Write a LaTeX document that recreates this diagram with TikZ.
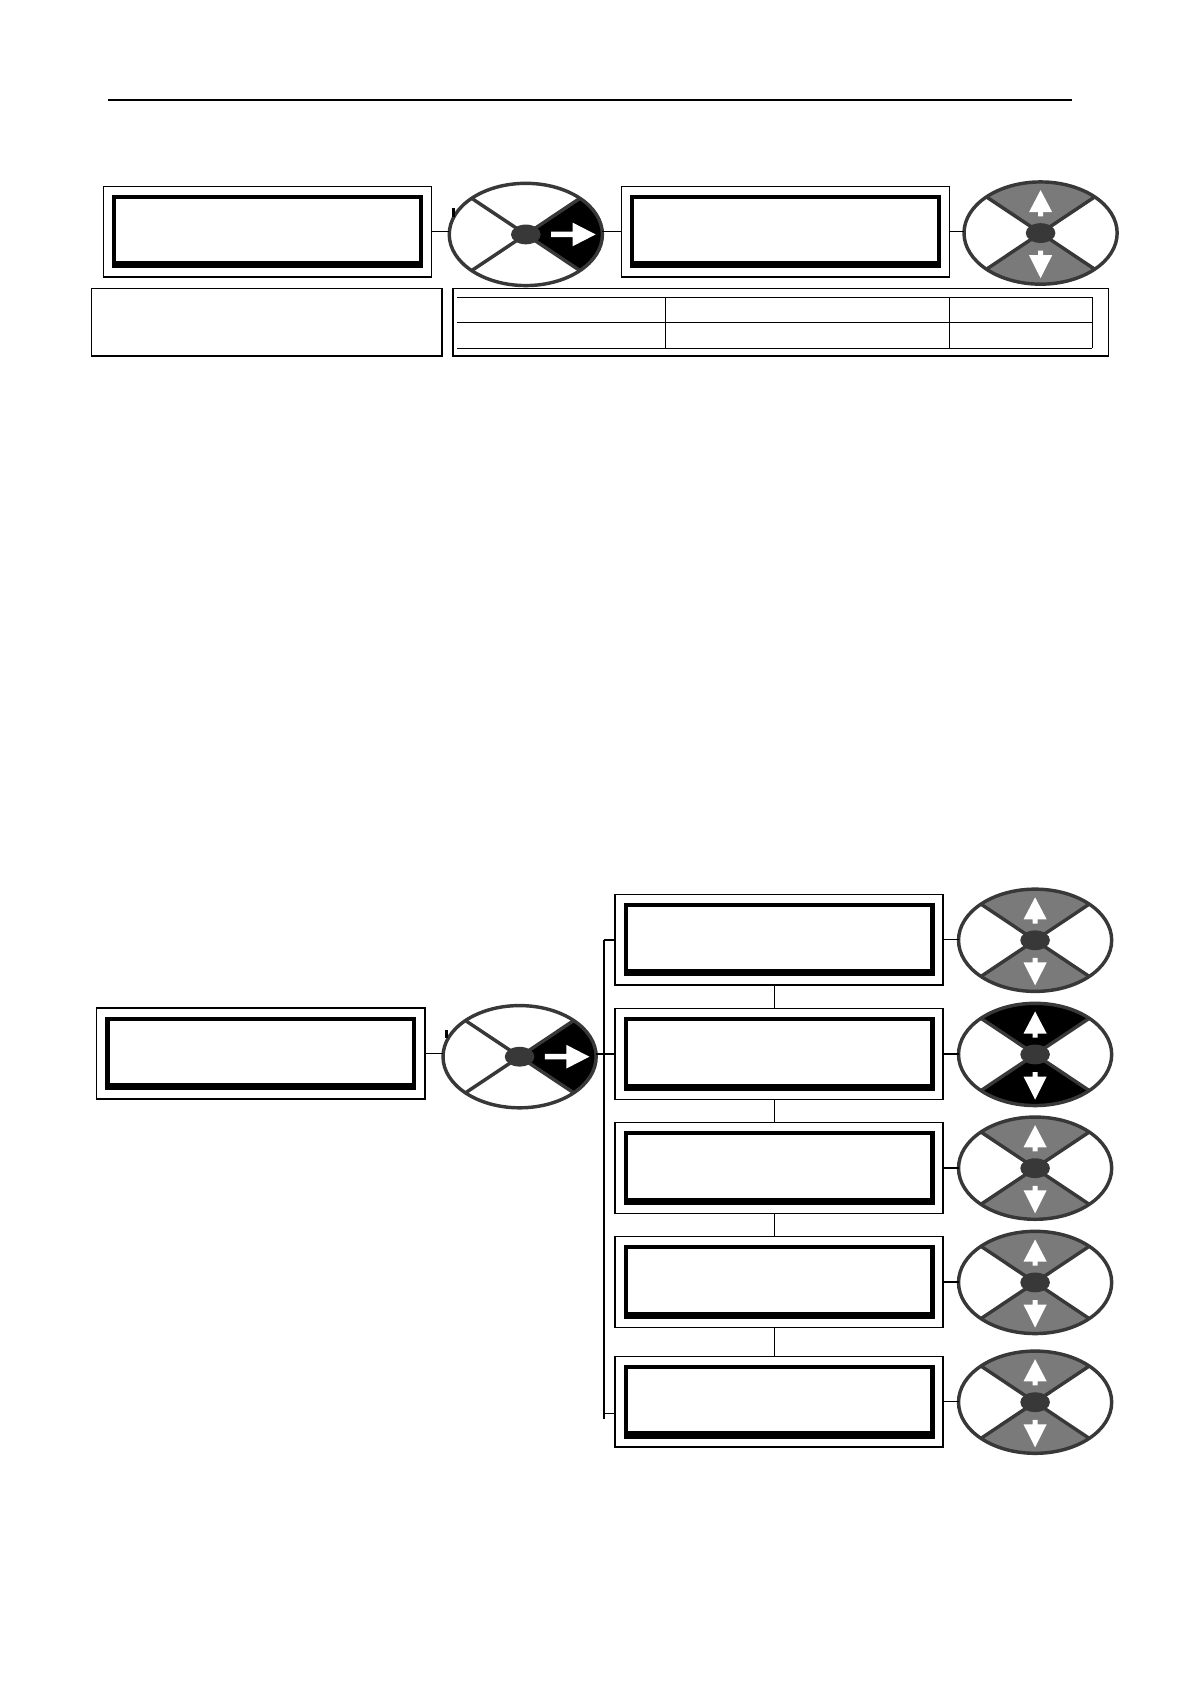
\documentclass[tikz,border=0pt]{standalone}
\usetikzlibrary{shapes.geometric,calc}
\definecolor{wline}{HTML}{383838}
\definecolor{wgrey}{HTML}{7A7A7A}
\newcommand\pbb{path picture bounding box}
\newcommand\wcore{%
  \draw[wline, line width=1.6pt] (\pbb.north west) -- (\pbb.south east) (\pbb.south west) -- (\pbb.north east);
  \fill[wline] (\pbb.center) ellipse [x radius=6.9pt, y radius=4.6pt];}
\newcommand\warrowR{%
  \begin{scope}[shift={(\pbb.center)}]
  \fill[white] (11.8pt,1.3pt) -- (21.8pt,1.3pt) -- (21.8pt,5.5pt) -- (32.5pt,0pt) -- (21.8pt,-5.5pt) -- (21.8pt,-1.3pt) -- (11.8pt,-1.3pt) -- cycle;
  \end{scope}}
\newcommand\warrowUD{%
  \begin{scope}[shift={(\pbb.center)}]
  \fill[white] (0pt,20pt) -- (5.4pt,9.7pt) -- (1.15pt,9.7pt) -- (1.15pt,7.8pt) -- (-1.15pt,7.8pt) -- (-1.15pt,9.7pt) -- (-5.4pt,9.7pt) -- cycle;
  \fill[white] (0pt,-21pt) -- (5.4pt,-10.3pt) -- (1.15pt,-10.3pt) -- (1.15pt,-8.2pt) -- (-1.15pt,-8.2pt) -- (-1.15pt,-10.3pt) -- (-5.4pt,-10.3pt) -- cycle;
  \end{scope}}
\tikzset{
  conn/.style={line width=0.65pt},
  display/.style={rectangle, draw, line width=0.65pt, minimum width=152.8pt, minimum height=42.3pt, inner sep=0pt, outer sep=0pt,
    path picture={
      \draw[line width=2pt] ($(\pbb.south west)+(5pt,5pt)$) rectangle ($(\pbb.north east)+(-5pt,-5pt)$);
      \fill ($(\pbb.south west)+(4pt,4pt)$) rectangle ($(\pbb.south east)+(-4pt,7.4pt)$);
    }},
  textbox/.style={rectangle, draw, line width=0.7pt, minimum height=31.5pt, inner sep=0pt, outer sep=0pt},
  wheel/.style={ellipse, draw=wline, line width=1.6pt, minimum width=71.3pt, minimum height=47.6pt, inner sep=0pt, outer sep=0pt},
  wR/.style={wheel, path picture={
      \fill[black] (\pbb.center) -- (\pbb.north east) -- (\pbb.south east) -- cycle;
      \wcore \warrowR}},
  wG/.style={wheel, path picture={
      \fill[wgrey] (\pbb.center) -- (\pbb.north west) -- (\pbb.north east) -- cycle
                   (\pbb.center) -- (\pbb.south west) -- (\pbb.south east) -- cycle;
      \wcore \warrowUD}},
  wB/.style={wheel, path picture={
      \fill[black] (\pbb.center) -- (\pbb.north west) -- (\pbb.north east) -- cycle
                   (\pbb.center) -- (\pbb.south west) -- (\pbb.south east) -- cycle;
      \wcore \warrowUD}},
  tabline/.style={line width=0.55pt},
  tick/.style={line width=1.4pt, black}
}
\begin{document}
\begin{tikzpicture}[x=0.5pt,y=0.5pt]
\fill[white] (0,0) rectangle (1108,-1568);
\useasboundingbox (0,0) rectangle (1108,-1568);

% header rule
\draw[line width=0.55pt] (100.5,-93.1) -- (997.8,-93.1);

% ---------- top row ----------
\node[display] (A) at (249.1,-215.7) {};
\node[wR] (W1) at (489.6,-218.3) {};
\node[display] (B) at (731.2,-215.7) {};
\node[wG] (W2) at (968.9,-217) {};
\draw[tick] (421.8,-193.8) -- (421.8,-202);

\draw[conn] (A.east) -- (A.east -| W1.west);
\draw[conn] (W1.east |- B.west) -- (B.west);
\draw[conn] (B.east) -- (B.east -| W2.west);

\node[textbox, minimum width=163.2pt] (L) at (248.3,-300) {};
\node[textbox, minimum width=305.2pt] (T) at (727.1,-300) {};
\draw[tabline] (425.9,-276.8) -- (1017.2,-276.8)
               (425.9,-300.4) -- (1017.2,-300.4)
               (425.9,-324.3) -- (1017.2,-324.3);
\draw[tabline] (620,-276.8) -- (620,-324.3)
               (884.4,-276.8) -- (884.4,-324.3)
               (1017.2,-276.8) -- (1017.2,-324.3);

% ---------- bottom part ----------
\node[display] (C) at (242.8,-981) {};
\node[wR] (W3) at (483.8,-983.9) {};
\draw[tick] (416,-959) -- (416,-966.6);

\node[display] (D1) at (725.4,-874.9) {};
\node[display] (D2) at (725.4,-981.4) {};
\node[display] (D3) at (725.4,-1087.5) {};
\node[display] (D4) at (725.4,-1193.7) {};
\node[display] (D5) at (725.4,-1305.1) {};

\node[wG] (E1) at (963.8,-875.5) {};
\node[wB] (E2) at (963.8,-981.8) {};
\node[wG] (E3) at (963.8,-1087.7) {};
\node[wG] (E4) at (963.8,-1194.1) {};
\node[wG] (E5) at (963.8,-1305.6) {};

\draw[conn] (C.east) -- (C.east -| W3.west);
\draw[conn] (W3.east |- D2.west) -- (D2.west);

% bus
\coordinate (bustop) at (562.3,-875.2);
\coordinate (busbot) at (562.3,-1321.5);
\coordinate (bus5) at (562.3,-1316);
\draw[conn] (bustop) -- (busbot);
\draw[conn] (bustop) -- (bustop -| D1.west);
\draw[conn] (bus5) -- (bus5 -| D5.west);

% vertical links between boxes
\draw[conn] ([xshift=-2pt]D1.south) -- ([xshift=-2pt]D2.north);
\draw[conn] ([xshift=-2pt]D2.south) -- ([xshift=-2pt]D3.north);
\draw[conn] ([xshift=-2pt]D3.south) -- ([xshift=-2pt]D4.north);
\draw[conn] ([xshift=-2pt]D4.south) -- ([xshift=-2pt]D5.north);

% box to wheel
\draw[conn] (D1.east) -- (D1.east -| E1.west);
\draw[conn] (D2.east) -- (D2.east -| E2.west);
\draw[conn] (D3.east) -- (D3.east -| E3.west);
\draw[conn] (D4.east) -- (D4.east -| E4.west);
\draw[conn] (D5.east) -- (D5.east -| E5.west);
\end{tikzpicture}
\end{document}
